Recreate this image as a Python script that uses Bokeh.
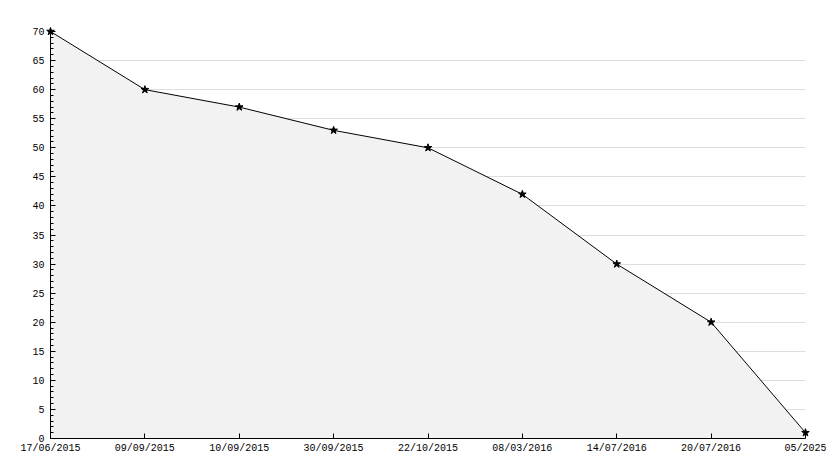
from bokeh.plotting import figure
from bokeh.models import Range1d, FixedTicker, SingleIntervalTicker, ColumnDataSource
from bokeh.embed import file_html
from bokeh.resources import INLINE

dates = ["17/06/2015", "09/09/2015", "10/09/2015", "30/09/2015", "22/10/2015",
         "08/03/2016", "14/07/2016", "20/07/2016", "05/2025"]
values = [70, 60, 57, 53, 50, 42, 30, 20, 1]

idx = list(range(len(dates)))
src = ColumnDataSource(dict(x=idx, y=values, y0=[0] * len(values)))

p = figure(frame_width=755, frame_height=407, output_backend="svg", toolbar_location=None,
           x_range=Range1d(0, len(dates) - 1), y_range=Range1d(0, 70),
           min_border_left=50, min_border_right=21, min_border_top=31, min_border_bottom=22)
p.outline_line_color = None
p.background_fill_color = "white"
p.border_fill_color = "white"

p.varea(x="x", y1="y0", y2="y", source=src, fill_color="#f2f2f2")
p.line(x="x", y="y", source=src, line_color="black", line_width=1)
p.scatter(x="x", y="y", source=src, marker="star", size=8, fill_color="black",
          line_color="black", level="overlay")

font = "Liberation Mono"
p.xaxis.ticker = FixedTicker(ticks=idx)
p.xaxis.major_label_overrides = {i: d for i, d in zip(idx, dates)}
p.xaxis.major_tick_in = 5
p.xaxis.major_tick_out = 0
p.xaxis.minor_tick_line_color = None
p.xaxis.major_label_standoff = 4
p.yaxis.ticker = SingleIntervalTicker(interval=5, num_minor_ticks=5)
p.yaxis.major_tick_in = 5
p.yaxis.major_tick_out = 0
p.yaxis.minor_tick_in = 3
p.yaxis.minor_tick_out = 0
p.yaxis.major_label_standoff = 6
for ax in (p.xaxis, p.yaxis):
    ax.axis_line_color = "black"
    ax.major_tick_line_color = "black"
    ax.major_label_text_font = font
    ax.major_label_text_font_size = "10px"
    ax.major_label_text_color = "black"
p.yaxis.minor_tick_line_color = "black"

p.xgrid.grid_line_color = None
p.ygrid.grid_line_color = "#dddddd"
p.ygrid.ticker = SingleIntervalTicker(interval=5)

open("out.html", "w").write(file_html(p, INLINE))
